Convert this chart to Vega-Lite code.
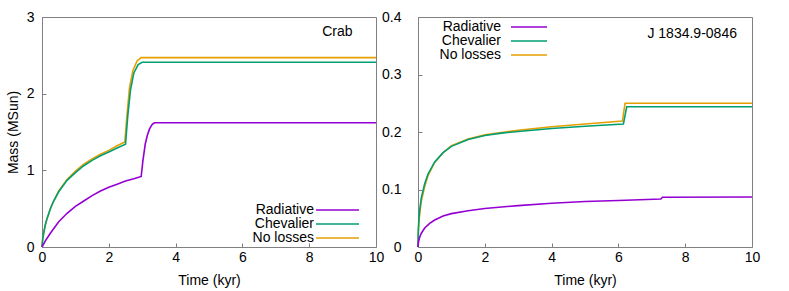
{
  "$schema": "https://vega.github.io/schema/vega-lite/v6.json",
  "padding": {"left": 5, "top": 9, "right": 0, "bottom": 0},
  "spacing": 42,
  "bounds": "flush",
  "config": {
    "font": "Liberation Sans",
    "view": {"stroke": "#808080", "strokeWidth": 1},
    "axis": {
      "grid": false, "domain": false, "tickSize": -4, "tickColor": "#808080",
      "labelFontSize": 14, "titleFontSize": 14, "titleFontWeight": "normal",
      "labelColor": "black", "titleColor": "black", "labelFlush": false
    },
    "legend": {
      "title": null, "orient": "none", "labelFontSize": 14, "symbolType": "M-4,0H4",
      "symbolStrokeWidth": 1.6, "labelAlign": "right", "rowPadding": -1,
      "padding": 0, "labelColor": "black"
    }
  },
  "datasets": {
    "crab": [
      {"t": 0, "m": 0, "s": "No losses"}, {"t": 0.02, "m": 0.1, "s": "No losses"}, {"t": 0.05, "m": 0.18, "s": "No losses"},
      {"t": 0.1, "m": 0.29, "s": "No losses"}, {"t": 0.15, "m": 0.37, "s": "No losses"}, {"t": 0.25, "m": 0.5, "s": "No losses"},
      {"t": 0.35, "m": 0.6, "s": "No losses"}, {"t": 0.5, "m": 0.73, "s": "No losses"}, {"t": 0.75, "m": 0.88, "s": "No losses"},
      {"t": 1.0, "m": 0.99, "s": "No losses"}, {"t": 1.25, "m": 1.08, "s": "No losses"}, {"t": 1.5, "m": 1.15, "s": "No losses"},
      {"t": 1.75, "m": 1.21, "s": "No losses"}, {"t": 2.0, "m": 1.26, "s": "No losses"}, {"t": 2.25, "m": 1.32, "s": "No losses"},
      {"t": 2.48, "m": 1.37, "s": "No losses"}, {"t": 2.55, "m": 1.75, "s": "No losses"}, {"t": 2.62, "m": 2.08, "s": "No losses"},
      {"t": 2.72, "m": 2.3, "s": "No losses"}, {"t": 2.85, "m": 2.43, "s": "No losses"}, {"t": 2.97, "m": 2.47, "s": "No losses"},
      {"t": 10, "m": 2.47, "s": "No losses"},
      {"t": 0, "m": 0, "s": "Chevalier"}, {"t": 0.02, "m": 0.1, "s": "Chevalier"}, {"t": 0.05, "m": 0.18, "s": "Chevalier"},
      {"t": 0.1, "m": 0.29, "s": "Chevalier"}, {"t": 0.15, "m": 0.37, "s": "Chevalier"}, {"t": 0.25, "m": 0.5, "s": "Chevalier"},
      {"t": 0.35, "m": 0.6, "s": "Chevalier"}, {"t": 0.5, "m": 0.72, "s": "Chevalier"}, {"t": 0.75, "m": 0.87, "s": "Chevalier"},
      {"t": 1.0, "m": 0.97, "s": "Chevalier"}, {"t": 1.25, "m": 1.06, "s": "Chevalier"}, {"t": 1.5, "m": 1.13, "s": "Chevalier"},
      {"t": 1.75, "m": 1.19, "s": "Chevalier"}, {"t": 2.0, "m": 1.24, "s": "Chevalier"}, {"t": 2.25, "m": 1.29, "s": "Chevalier"},
      {"t": 2.5, "m": 1.34, "s": "Chevalier"}, {"t": 2.57, "m": 1.72, "s": "Chevalier"}, {"t": 2.65, "m": 2.05, "s": "Chevalier"},
      {"t": 2.75, "m": 2.27, "s": "Chevalier"}, {"t": 2.88, "m": 2.38, "s": "Chevalier"}, {"t": 3.0, "m": 2.41, "s": "Chevalier"},
      {"t": 10, "m": 2.41, "s": "Chevalier"},
      {"t": 0, "m": 0, "s": "Radiative"}, {"t": 0.1, "m": 0.08, "s": "Radiative"}, {"t": 0.25, "m": 0.18, "s": "Radiative"},
      {"t": 0.5, "m": 0.33, "s": "Radiative"}, {"t": 0.75, "m": 0.44, "s": "Radiative"}, {"t": 1.0, "m": 0.53, "s": "Radiative"},
      {"t": 1.25, "m": 0.6, "s": "Radiative"}, {"t": 1.5, "m": 0.67, "s": "Radiative"}, {"t": 1.75, "m": 0.73, "s": "Radiative"},
      {"t": 2.0, "m": 0.78, "s": "Radiative"}, {"t": 2.25, "m": 0.82, "s": "Radiative"}, {"t": 2.5, "m": 0.86, "s": "Radiative"},
      {"t": 2.75, "m": 0.89, "s": "Radiative"}, {"t": 2.97, "m": 0.92, "s": "Radiative"}, {"t": 3.02, "m": 1.12, "s": "Radiative"},
      {"t": 3.09, "m": 1.34, "s": "Radiative"}, {"t": 3.15, "m": 1.45, "s": "Radiative"}, {"t": 3.22, "m": 1.54, "s": "Radiative"},
      {"t": 3.3, "m": 1.6, "s": "Radiative"}, {"t": 3.37, "m": 1.62, "s": "Radiative"}, {"t": 10, "m": 1.62, "s": "Radiative"}
    ],
    "j1834": [
      {"t": 0, "m": 0, "s": "No losses"}, {"t": 0.01, "m": 0.025, "s": "No losses"}, {"t": 0.03, "m": 0.045, "s": "No losses"},
      {"t": 0.05, "m": 0.057, "s": "No losses"}, {"t": 0.1, "m": 0.08, "s": "No losses"}, {"t": 0.2, "m": 0.105, "s": "No losses"},
      {"t": 0.3, "m": 0.124, "s": "No losses"}, {"t": 0.5, "m": 0.147, "s": "No losses"}, {"t": 0.75, "m": 0.164, "s": "No losses"},
      {"t": 1.0, "m": 0.176, "s": "No losses"}, {"t": 1.5, "m": 0.188, "s": "No losses"}, {"t": 2.0, "m": 0.195, "s": "No losses"},
      {"t": 2.5, "m": 0.199, "s": "No losses"}, {"t": 3.0, "m": 0.203, "s": "No losses"}, {"t": 4.0, "m": 0.209, "s": "No losses"},
      {"t": 5.0, "m": 0.214, "s": "No losses"}, {"t": 6.12, "m": 0.219, "s": "No losses"}, {"t": 6.2, "m": 0.25, "s": "No losses"},
      {"t": 10, "m": 0.25, "s": "No losses"},
      {"t": 0, "m": 0, "s": "Chevalier"}, {"t": 0.01, "m": 0.03, "s": "Chevalier"}, {"t": 0.03, "m": 0.052, "s": "Chevalier"},
      {"t": 0.05, "m": 0.064, "s": "Chevalier"}, {"t": 0.1, "m": 0.086, "s": "Chevalier"}, {"t": 0.2, "m": 0.11, "s": "Chevalier"},
      {"t": 0.3, "m": 0.127, "s": "Chevalier"}, {"t": 0.5, "m": 0.148, "s": "Chevalier"}, {"t": 0.75, "m": 0.164, "s": "Chevalier"},
      {"t": 1.0, "m": 0.175, "s": "Chevalier"}, {"t": 1.5, "m": 0.187, "s": "Chevalier"}, {"t": 2.0, "m": 0.194, "s": "Chevalier"},
      {"t": 2.5, "m": 0.198, "s": "Chevalier"}, {"t": 3.0, "m": 0.201, "s": "Chevalier"}, {"t": 4.0, "m": 0.206, "s": "Chevalier"},
      {"t": 5.0, "m": 0.21, "s": "Chevalier"}, {"t": 6.15, "m": 0.214, "s": "Chevalier"}, {"t": 6.25, "m": 0.244, "s": "Chevalier"},
      {"t": 10, "m": 0.244, "s": "Chevalier"},
      {"t": 0, "m": 0, "s": "Radiative"}, {"t": 0.01, "m": 0.007, "s": "Radiative"}, {"t": 0.03, "m": 0.013, "s": "Radiative"},
      {"t": 0.05, "m": 0.017, "s": "Radiative"}, {"t": 0.1, "m": 0.024, "s": "Radiative"}, {"t": 0.2, "m": 0.033, "s": "Radiative"},
      {"t": 0.35, "m": 0.041, "s": "Radiative"}, {"t": 0.5, "m": 0.047, "s": "Radiative"}, {"t": 0.75, "m": 0.054, "s": "Radiative"},
      {"t": 1.0, "m": 0.058, "s": "Radiative"}, {"t": 1.5, "m": 0.063, "s": "Radiative"}, {"t": 2.0, "m": 0.067, "s": "Radiative"},
      {"t": 3.0, "m": 0.072, "s": "Radiative"}, {"t": 4.0, "m": 0.076, "s": "Radiative"}, {"t": 5.0, "m": 0.079, "s": "Radiative"},
      {"t": 6.0, "m": 0.081, "s": "Radiative"}, {"t": 7.27, "m": 0.0835, "s": "Radiative"}, {"t": 7.32, "m": 0.0865, "s": "Radiative"},
      {"t": 10, "m": 0.087, "s": "Radiative"}
    ]
  },
  "hconcat": [
    {
      "width": 334, "height": 230,
      "layer": [
        {
          "data": {"name": "crab"},
          "mark": {"type": "line", "strokeWidth": 1.6},
          "encoding": {
            "x": {"field": "t", "type": "quantitative", "scale": {"domain": [0, 10]},
                  "axis": {"values": [0, 2, 4, 6, 8, 10], "title": "Time (kyr)", "labelPadding": 7, "titlePadding": 9}},
            "y": {"field": "m", "type": "quantitative", "scale": {"domain": [0, 3]},
                  "axis": {"values": [0, 1, 2, 3], "format": "d", "title": "Mass (MSun)", "labelPadding": 12, "titlePadding": 6}},
            "color": {"field": "s", "type": "nominal",
                      "scale": {"domain": ["Radiative", "Chevalier", "No losses"], "range": ["#9400d3", "#009e73", "#e69f00"]},
                      "legend": {"legendX": 213, "legendY": 186, "symbolSize": 115.6, "symbolOffset": 75.5, "labelOffset": -30.5}}
          }
        },
        {
          "data": {"values": [{"label": "Crab"}]},
          "mark": {"type": "text", "align": "right", "baseline": "alphabetic", "fontSize": 14},
          "encoding": {
            "x": {"datum": 9.3, "type": "quantitative"},
            "y": {"datum": 2.75, "type": "quantitative"},
            "text": {"field": "label"}
          }
        }
      ]
    },
    {
      "width": 334, "height": 230,
      "layer": [
        {
          "data": {"name": "j1834"},
          "mark": {"type": "line", "strokeWidth": 1.6},
          "encoding": {
            "x": {"field": "t", "type": "quantitative", "scale": {"domain": [0, 10]},
                  "axis": {"values": [0, 2, 4, 6, 8, 10], "title": "Time (kyr)", "labelPadding": 7, "titlePadding": 9}},
            "y": {"field": "m", "type": "quantitative", "scale": {"domain": [0, 0.4]},
                  "axis": {"values": [0, 0.1, 0.2, 0.3, 0.4], "title": null, "labelPadding": 21,
                           "labelExpr": "datum.value == 0 ? '0' : format(datum.value, '.1f')"}},
            "color": {"field": "s", "type": "nominal",
                      "scale": {"domain": ["Radiative", "Chevalier", "No losses"], "range": ["#9400d3", "#009e73", "#e69f00"]},
                      "legend": {"legendX": 23, "legendY": 3, "symbolSize": 81, "symbolOffset": 81, "labelOffset": -35}}
          }
        },
        {
          "data": {"values": [{"label": "J 1834.9-0846"}]},
          "mark": {"type": "text", "align": "right", "baseline": "alphabetic", "fontSize": 14},
          "encoding": {
            "x": {"datum": 9.55, "type": "quantitative"},
            "y": {"datum": 0.364, "type": "quantitative"},
            "text": {"field": "label"}
          }
        }
      ],
      "resolve": {"scale": {"color": "independent"}}
    }
  ],
  "resolve": {"scale": {"color": "independent"}}
}
